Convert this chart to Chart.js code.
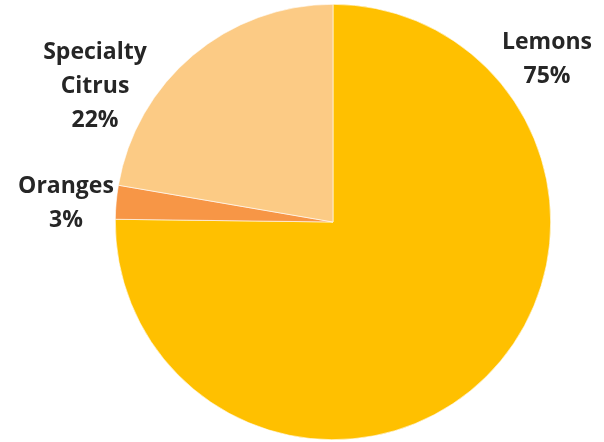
<!DOCTYPE html>
<html>
<head>
<meta charset="utf-8">
<script src="https://cdn.jsdelivr.net/npm/chart.js@4"></script>
<style>
  html, body { margin: 0; padding: 0; background: #fff; }
  #wrap { width: 604px; height: 442px; }
</style>
</head>
<body>
<div id="wrap"><canvas id="pieChart" width="604" height="442"></canvas></div>
<script>
const categories = ["Lemons", "Oranges", "Specialty Citrus"];
const shares = [75.2, 2.5, 22.3];
const sliceColors = ["#FFC000", "#F79646", "#FCCB85"];

// label lines and their first baseline (placed by hand like the original)
const labelLines = [["Lemons"], ["Oranges"], ["Specialty", "Citrus"]];
const labelPos = [[547, 49], [66, 193], [95, 59]];

const ctx = document.getElementById("pieChart").getContext("2d");

const outsideLabels = {
  id: "outsideLabels",
  afterDraw(chart) {
    const c = chart.ctx;
    const data = chart.data.datasets[0].data;
    c.save();
    c.fillStyle = "#262626";
    c.font = "bold 23px 'Open Sans'";
    c.textAlign = "center";
    c.textBaseline = "alphabetic";
    data.forEach((v, i) => {
      const lines = labelLines[i].concat([Math.round(v) + "%"]);
      const [x, y] = labelPos[i];
      lines.forEach((t, k) => c.fillText(t, x, y + k * 34));
    });
    c.restore();
  }
};

new Chart(ctx, {
  type: "pie",
  data: {
    labels: categories,
    datasets: [{
      data: shares,
      backgroundColor: sliceColors,
      borderColor: "#ffffff",
      borderWidth: 0.6
    }]
  },
  options: {
    responsive: false,
    animation: false,
    layout: { padding: { left: 115, right: 53, top: 4, bottom: 2 } },
    plugins: {
      legend: { display: false },
      tooltip: { enabled: false }
    }
  },
  plugins: [outsideLabels]
});
</script>
</body>
</html>
